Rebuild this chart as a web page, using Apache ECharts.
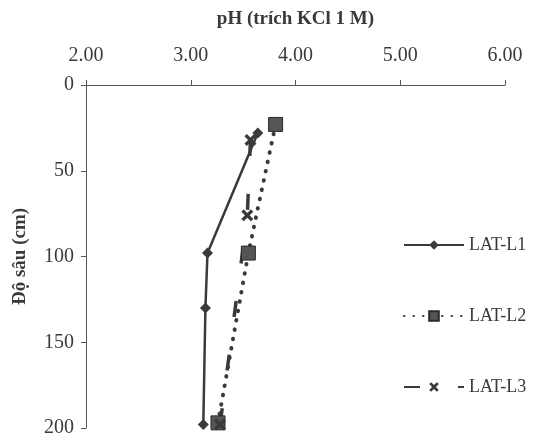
<!DOCTYPE html>
<html>
<head>
<meta charset="utf-8">
<script src="https://cdn.jsdelivr.net/npm/echarts@6/dist/echarts.min.js"></script>
<style>
html,body{margin:0;padding:0;background:#fff;}
#c{width:540px;height:441px;}
</style>
</head>
<body>
<div id="c"></div>
<script>
const seriesNames = ['LAT-L1', 'LAT-L2', 'LAT-L3'];
const depthL1 = [28, 98, 130, 198];
const phL1 = [3.64, 3.16, 3.14, 3.12];
const depthL2 = [23, 98, 197];
const phL2 = [3.81, 3.55, 3.26];
const depthL3 = [32, 76, 198];
const phL3 = [3.57, 3.54, 3.28];
const xTicks = [2, 3, 4, 5, 6];
const yTicks = [0, 50, 100, 150, 200];

const FONT = 'Liberation Serif';
const INK = '#3a3a3a';
const pairs = (xs, ys) => xs.map((x, i) => [x, ys[i]]);
const crossPath = 'path://M2,0 L5,3 L8,0 L10,2 L7,5 L10,8 L8,10 L5,7 L2,10 L0,8 L3,5 L0,2 Z';

const chart = echarts.init(document.getElementById('c'), null, {renderer: 'canvas'});
chart.setOption({
  backgroundColor: '#ffffff',
  animation: false,
  textStyle: {fontFamily: FONT, color: INK},
  grid: {left: 86, right: 35, top: 85, bottom: 13},
  legend: {
    orient: 'vertical',
    left: 398,
    top: 231,
    itemWidth: 60,
    itemHeight: 12,
    itemGap: 53,
    data: seriesNames,
    textStyle: {fontFamily: FONT, fontSize: 18, color: INK}
  },
  xAxis: {
    type: 'value',
    position: 'top',
    min: xTicks[0],
    max: xTicks[xTicks.length - 1],
    interval: 1,
    name: 'pH (trích KCl 1 M)',
    nameLocation: 'middle',
    nameGap: 56,
    nameTextStyle: {fontFamily: FONT, fontSize: 19, fontWeight: 'bold', color: INK},
    axisLine: {show: true, lineStyle: {color: '#555', width: 1}},
    axisTick: {show: true, length: 5, lineStyle: {color: '#555'}},
    axisLabel: {fontFamily: FONT, fontSize: 20, color: INK, margin: 19, formatter: v => v.toFixed(2)},
    splitLine: {show: false}
  },
  yAxis: {
    type: 'value',
    inverse: true,
    min: yTicks[0],
    max: yTicks[yTicks.length - 1],
    interval: 50,
    name: 'Độ sâu (cm)',
    nameLocation: 'middle',
    nameGap: 56,
    nameTextStyle: {fontFamily: FONT, fontSize: 19, fontWeight: 'bold', color: INK},
    axisLine: {show: true, lineStyle: {color: '#555', width: 1}},
    axisTick: {show: true, length: 5, lineStyle: {color: '#555'}},
    axisLabel: {fontFamily: FONT, fontSize: 20, color: INK, margin: 12},
    splitLine: {show: false}
  },
  series: [
    {
      name: seriesNames[0],
      type: 'line',
      data: pairs(phL1, depthL1),
      symbol: 'diamond',
      symbolSize: 11,
      itemStyle: {color: INK},
      lineStyle: {color: INK, width: 2.5}
    },
    {
      name: seriesNames[1],
      type: 'line',
      data: pairs(phL2, depthL2),
      symbol: 'rect',
      symbolSize: 14,
      itemStyle: {color: '#555', borderColor: '#2a2a2a', borderWidth: 1},
      lineStyle: {color: INK, width: 4, type: [0.5, 9], cap: 'round'}
    },
    {
      name: seriesNames[2],
      type: 'line',
      data: pairs(phL3, depthL3),
      symbol: crossPath,
      symbolSize: 12,
      itemStyle: {color: INK},
      lineStyle: {color: INK, width: 3.5, type: [16, 38]}
    }
  ]
});
</script>
</body>
</html>
